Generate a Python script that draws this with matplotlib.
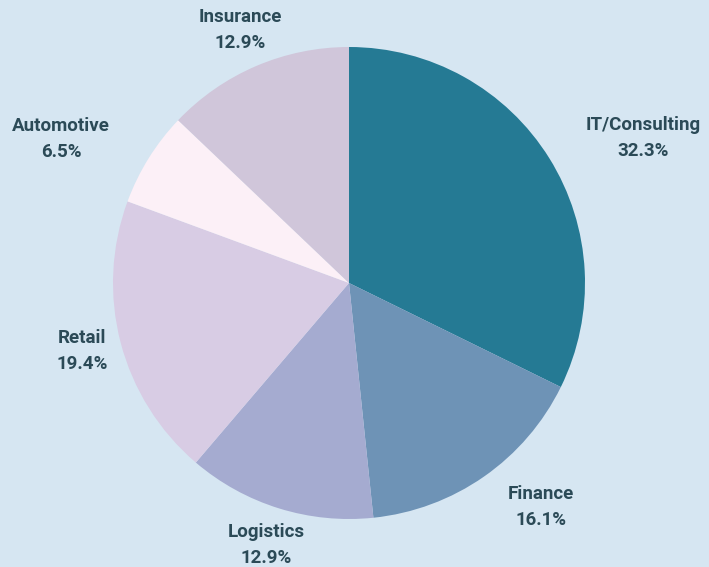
import matplotlib
matplotlib.use("Agg")
import matplotlib.pyplot as plt

categories = ["IT/Consulting", "Finance", "Logistics", "Retail", "Automotive", "Insurance"]
values = [32.3, 16.1, 12.9, 19.4, 6.5, 12.9]
colors = ["#257a94", "#6e93b6", "#a5abd0", "#d8cce4", "#fcf0f7", "#d0c6da"]
label_pos = {
    "IT/Consulting": (1.246, 0.614),
    "Finance": (0.814, -0.949),
    "Logistics": (-0.352, -1.110),
    "Retail": (-1.131, -0.288),
    "Automotive": (-1.220, 0.610),
    "Insurance": (-0.462, 1.072),
}

bg = "#d6e6f2"
txt = "#2b4a57"

fig = plt.figure(figsize=(7.09, 5.67), dpi=100, facecolor=bg)
ax = fig.add_axes([0, 0, 1, 1])
ax.set_facecolor(bg)
wedges, _ = ax.pie(values, colors=colors, startangle=90, counterclock=False,
                   radius=1.0, wedgeprops=dict(linewidth=0))
for cat, v in zip(categories, values):
    x, y = label_pos[cat]
    ax.text(x, y, f"{cat}\n{v:.1f}%", ha="center", va="center", color=txt,
            fontsize=13.5, fontweight="semibold", family=["Roboto", "DejaVu Sans"],
            linespacing=1.55)
ax.set_aspect("auto")
ax.set_xlim(-349 / 236, (709 - 349) / 236)
ax.set_ylim((283 - 567) / 236, 283 / 236)
ax.axis("off")
fig.savefig("out.png", dpi=100, facecolor=bg)
